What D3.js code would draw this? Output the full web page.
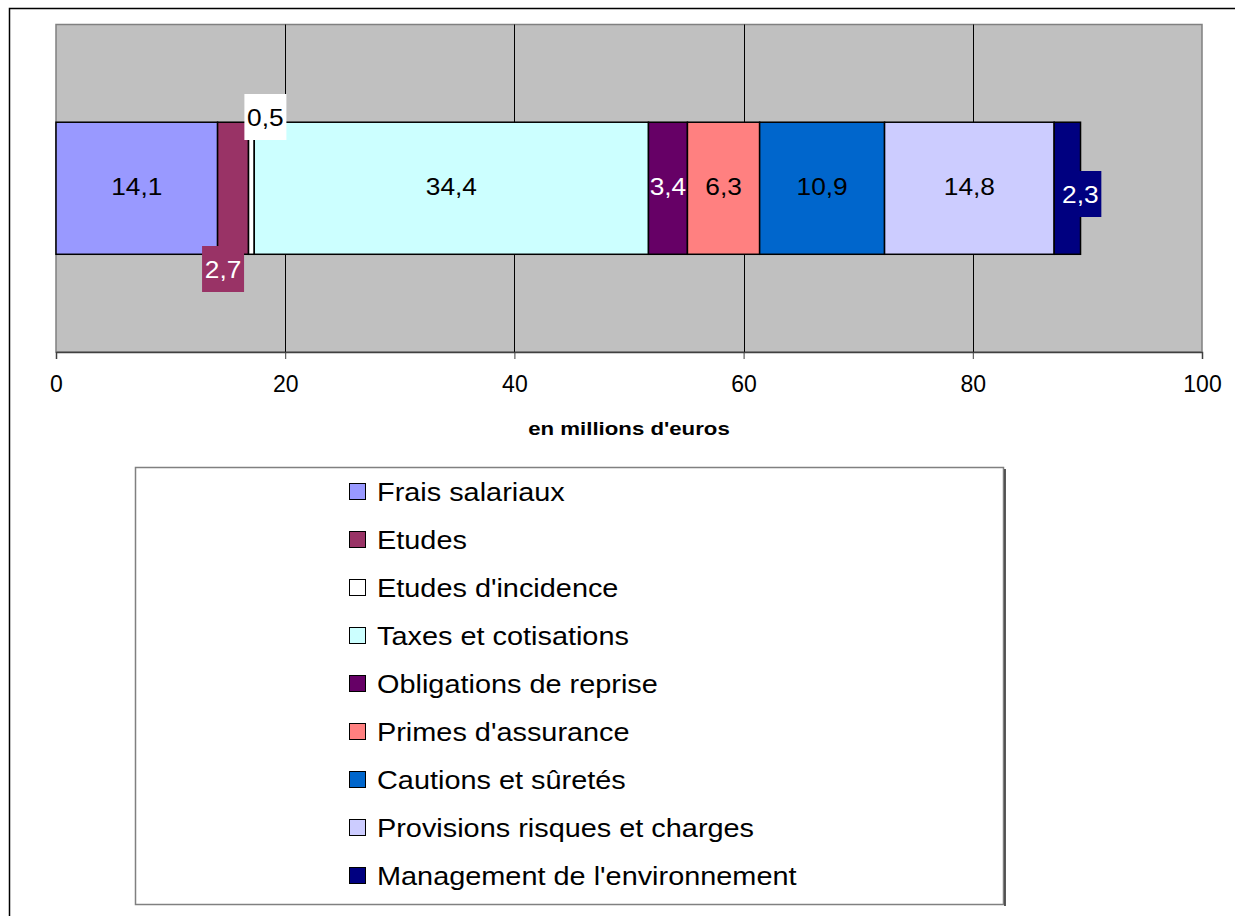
<!DOCTYPE html>
<html>
<head>
<meta charset="utf-8">
<script src="https://cdn.jsdelivr.net/npm/d3@7/dist/d3.min.js"></script>
<style>
  html, body { margin: 0; padding: 0; background: #fff; }
  svg { display: block; font-family: Arial, "Liberation Sans", sans-serif; }
</style>
</head>
<body>
<svg id="chart" width="1235" height="916"></svg>
<script>
// Cost categories (stacked, left to right) and their amounts in millions of euros
const categories = [
  "Frais salariaux",
  "Etudes",
  "Etudes d'incidence",
  "Taxes et cotisations",
  "Obligations de reprise",
  "Primes d'assurance",
  "Cautions et sûretés",
  "Provisions risques et charges",
  "Management de l'environnement"
];
const values = [14.1, 2.7, 0.5, 34.4, 3.4, 6.3, 10.9, 14.8, 2.3];
const colors = ["#9999FF", "#993366", "#FFFFFF", "#CCFFFF", "#660066", "#FF8080", "#0066CC", "#CCCCFF", "#000080"];
const labelColors = ["#000", "#fff", "#000", "#000", "#fff", "#000", "#000", "#000", "#fff"];
const xTicks = [0, 20, 40, 60, 80, 100];
const axisTitle = "en millions d'euros";

const svg = d3.select("#chart");
const W = 1235, H = 916;

// Outer chart frame (runs off the right and bottom of the page)
svg.append("path")
  .attr("d", `M9.5,${H + 5} V8.5 H${W + 5}`)
  .attr("fill", "none").attr("stroke", "#000").attr("stroke-width", 1.5);

// Plot area
const plot = { left: 56, right: 1202, top: 24.5, bottom: 352 };
const x = d3.scaleLinear().domain([0, 100]).range([plot.left, plot.right]);
const y = d3.scaleBand().domain(["total"]).range([plot.top, plot.bottom]).paddingInner(0).paddingOuter(0.74);

svg.append("rect")
  .attr("x", plot.left).attr("y", plot.top)
  .attr("width", plot.right - plot.left).attr("height", plot.bottom - plot.top)
  .attr("fill", "#C0C0C0").attr("stroke", "#808080").attr("stroke-width", 1.5);

// Vertical gridlines
svg.append("g").selectAll("line")
  .data(xTicks.filter(t => t > 0 && t < 100))
  .join("line")
  .attr("x1", d => Math.round(x(d)) + 0.5).attr("x2", d => Math.round(x(d)) + 0.5)
  .attr("y1", plot.top).attr("y2", plot.bottom)
  .attr("stroke", "#000").attr("stroke-width", 1);

// Stacked segments
const stacked = [];
let acc = 0;
values.forEach((v, i) => { stacked.push({ cat: categories[i], v, x0: acc, x1: acc + v, i }); acc += v; });

const barY = y("total");
const barH = y.bandwidth();

svg.append("g").selectAll("rect")
  .data(stacked)
  .join("rect")
  .attr("x", d => x(d.x0)).attr("y", barY)
  .attr("width", d => x(d.x1) - x(d.x0)).attr("height", barH)
  .attr("fill", d => colors[d.i])
  .attr("stroke", "#000").attr("stroke-width", 1.5);

// X axis
const axis = d3.axisBottom(x).tickValues(xTicks).tickSize(7).tickPadding(17).tickFormat(d3.format("d"));
const gx = svg.append("g").attr("transform", `translate(0,${plot.bottom})`).call(axis);
gx.select(".domain").attr("stroke", "#404040").attr("stroke-width", 1.5);
gx.selectAll(".tick line").attr("stroke", "#404040");
gx.selectAll(".tick text").attr("font-size", 23).attr("fill", "#000")
  .attr("font-family", "Arial, 'Liberation Sans', sans-serif");

// Text helper: places wide-set text with its anchor at (tx, ty)
function wideText(parent, tx, ty, str, anchor, sx) {
  return parent.append("text")
    .attr("transform", `translate(${tx},${ty}) scale(${sx},1)`)
    .attr("text-anchor", anchor || "start")
    .text(str);
}

wideText(svg, (plot.left + plot.right) / 2, 435, axisTitle, "middle", 1.17)
  .attr("font-size", 19).attr("font-weight", "bold");

// Data labels: most sit centred in their segment; the narrow ones are moved off the bar
const fmt = v => String(v).replace(".", ",");
const labelPlace = {
  1: { dx: -10, cy: 269, box: true },
  2: { dx: 14, cy: 117, box: true },
  8: { dx: 13, cy: 194, box: true }
};
const labels = svg.append("g");
stacked.forEach(d => {
  const cx0 = (x(d.x0) + x(d.x1)) / 2;
  const p = labelPlace[d.i];
  const cx = p ? cx0 + p.dx : cx0;
  const cy = p ? p.cy : barY + barH / 2 - 2;
  if (p && p.box) {
    labels.append("rect")
      .attr("x", cx - 21).attr("y", cy - 23).attr("width", 42).attr("height", 46)
      .attr("fill", colors[d.i]);
  }
  wideText(labels, cx, cy + 8.5, fmt(d.v), "middle", 1.12)
    .attr("font-size", 23.5)
    .attr("fill", labelColors[d.i]);
});

// Legend
const lg = { left: 135, top: 467, right: 1003, bottom: 904 };
svg.append("rect")
  .attr("x", lg.left + 0.5).attr("y", lg.top + 0.5)
  .attr("width", lg.right - lg.left).attr("height", lg.bottom - lg.top)
  .attr("fill", "#fff").attr("stroke", "#808080").attr("stroke-width", 1.5);
svg.append("line")
  .attr("x1", lg.right + 2).attr("x2", lg.right + 2)
  .attr("y1", lg.top + 2).attr("y2", lg.bottom + 2)
  .attr("stroke", "#222").attr("stroke-width", 1.5);

const ly = d3.scalePoint().domain(categories).range([492, 876]);
const items = svg.append("g").selectAll("g")
  .data(categories)
  .join("g")
  .attr("transform", d => `translate(349,${ly(d)})`);
items.append("rect")
  .attr("x", 0.5).attr("y", -8.5).attr("width", 16).attr("height", 16)
  .attr("fill", (d, i) => colors[i]).attr("stroke", "#000").attr("stroke-width", 1);
items.each(function(d) {
  wideText(d3.select(this), 28, 9, d, "start", 1.155).attr("font-size", 25);
});
</script>
</body>
</html>
